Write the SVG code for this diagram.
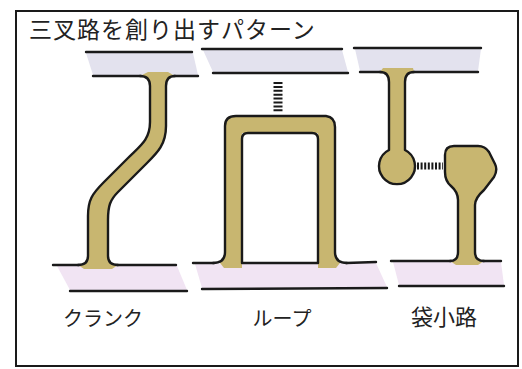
<svg xmlns="http://www.w3.org/2000/svg" width="522" height="369" viewBox="0 0 522 369">
  <style>
    .frame { fill: #ffffff; stroke: #1a1a1a; stroke-width: 2; }
    .band-top { fill: #e3e2ee; }
    .band-bot { fill: #f1e4f3; }
    .edge { fill: none; stroke: #1a1a1a; stroke-width: 2.4; stroke-linecap: round; }
    .road { fill: #c8b670; stroke: none; }
    .outline { fill: none; stroke: #1a1a1a; stroke-width: 2.4; stroke-linejoin: round; stroke-linecap: round; }
    .ladder { fill: none; stroke: #1a1a1a; }
    .title { font-family: "Noto Sans CJK JP", "Noto Sans", sans-serif; font-size: 23px; fill: #222; letter-spacing: 1px; }
    .label { font-family: "Noto Sans CJK JP", "Noto Sans", sans-serif; font-size: 20px; fill: #222; text-anchor: middle; }
  </style>

  <!-- frame -->
  <rect class="frame" x="16" y="11" width="502" height="355"/>
  <text class="title" x="29" y="38">三叉路を創り出すパターン</text>

  <!-- crank: a road that jogs sideways between two streets -->
  <g id="crank">
    <polygon class="band-top" points="86,53 193,53 198,75 93,75"/>
    <polygon class="band-bot" points="57,266 177,266 187,290 70,290"/>
    <line class="edge" x1="86" y1="52" x2="192" y2="52"/>
    <line class="edge" x1="93" y1="76" x2="141" y2="76"/>
    <line class="edge" x1="174" y1="76" x2="198" y2="76"/>
    <line class="edge" x1="53" y1="265" x2="79" y2="265"/>
    <line class="edge" x1="117" y1="265" x2="176" y2="265"/>
    <line class="edge" x1="70" y1="291" x2="187" y2="291"/>
    <path class="road" d="M148 72 L168 72 L175 76 Q166 76 166 86 L166 126 C166 146 156 154 144 166 L118 192 C110 200 108 206 108 220 L108 256 Q108 265 118 265 L112 269 L84 269 L78 265 Q88 265 88 256 L88 216 C88 200 92 194 104 182 L128 158 C140 146 150 140 150 122 L150 86 Q150 76 140 76 Z"/>
    <path class="outline" d="M140 76 Q150 76 150 86 L150 122 C150 140 140 146 128 158 L104 182 C92 194 88 200 88 216 L88 256 Q88 265 78 265"/>
    <path class="outline" d="M175 76 Q166 76 166 86 L166 126 C166 146 156 154 144 166 L118 192 C110 200 108 206 108 220 L108 256 Q108 265 118 265"/>
    <text class="label" x="103" y="326">クランク</text>
  </g>

  <!-- loop: a U-shaped road rising from one street -->
  <g id="loop">
    <polygon class="band-top" points="203,50 342,50 348,72 213,72"/>
    <polygon class="band-bot" points="195,264 376,263 387,287 202,288"/>
    <line class="edge" x1="202" y1="49" x2="342" y2="49"/>
    <line class="edge" x1="213" y1="73" x2="348" y2="73"/>
    <line class="edge" x1="202" y1="289" x2="387" y2="288"/>
    <line class="edge" x1="193" y1="263" x2="214" y2="263"/>
    <line class="edge" x1="346" y1="263" x2="376" y2="262"/>
    <path class="road" d="M213 263 Q225 263 225 252 L225 126 Q225 116 236 116 L326 116 Q335 117 335 127 L335 252 Q335 263 347 263 Z"/>
    <rect x="242" y="133" width="76" height="130" fill="#ffffff"/>
    <path class="road" d="M220 263 L242 263 L242 268 L224 268 Z M318 263 L340 263 L336 268 L318 268 Z"/>
    <path class="outline" d="M213 263 Q225 263 225 252 L225 126 Q225 116 236 116 L326 116 Q335 117 335 127 L335 252 Q335 263 347 263"/>
    <path class="outline" d="M242 263 L242 139 Q242 133 248 133 L312 133 Q318 133 318 139 L318 263 Z"/>
    <text class="label" x="282" y="326">ループ</text>
  </g>

  <!-- dead end: a spur ending in a bulb, facing a stub from the other street -->
  <g id="dead-end">
    <polygon class="band-top" points="355,49 481,49 478,71 360,71"/>
    <polygon class="band-bot" points="393,262 501,262 504,285 399,285"/>
    <line class="edge" x1="354" y1="48" x2="481" y2="48"/>
    <line class="edge" x1="360" y1="72" x2="381" y2="72"/>
    <line class="edge" x1="413" y1="72" x2="478" y2="72"/>
    <line class="edge" x1="391" y1="261" x2="451" y2="261"/>
    <line class="edge" x1="483" y1="261" x2="501" y2="261"/>
    <line class="edge" x1="399" y1="286" x2="504" y2="286"/>
    <path class="road" d="M383 68 L413 68 L414 72 Q405 72 405 82 L405 150 A18 18 0 1 1 389 150 L389 82 Q389 72 380 72 Z"/>
    <path class="outline" d="M380 72 Q389 72 389 82 L389 150 A18 18 0 1 0 405 150 L405 82 Q405 72 414 72"/>
    <path class="road" d="M450 261 Q458 261 458 252 L458 200 Q458 192 451 186 Q445 181 445 172 L445 155 Q445 146 454 146 L478 146 Q485 146 489 152 L495 164 Q498 170 494 177 L484 190 Q475 198 475 205 L475 252 Q475 261 484 261 L478 265 L456 265 Z"/>
    <path class="outline" d="M450 261 Q458 261 458 252 L458 200 Q458 192 451 186 Q445 181 445 172 L445 155 Q445 146 454 146 L478 146 Q485 146 489 152 L495 164 Q498 170 494 177 L484 190 Q475 198 475 205 L475 252 Q475 261 484 261"/>
    <text class="label" x="444" y="325" style="font-size:22px">袋小路</text>
  </g>

  <!-- connection marks where a new link would be made -->
  <g id="connectors">
    <line class="ladder" x1="278" y1="82" x2="278" y2="113" stroke-width="9" stroke-dasharray="2 1.9"/>
    <line class="ladder" x1="417" y1="166" x2="443" y2="166" stroke-width="7" stroke-dasharray="2 1.6"/>
  </g>
</svg>
